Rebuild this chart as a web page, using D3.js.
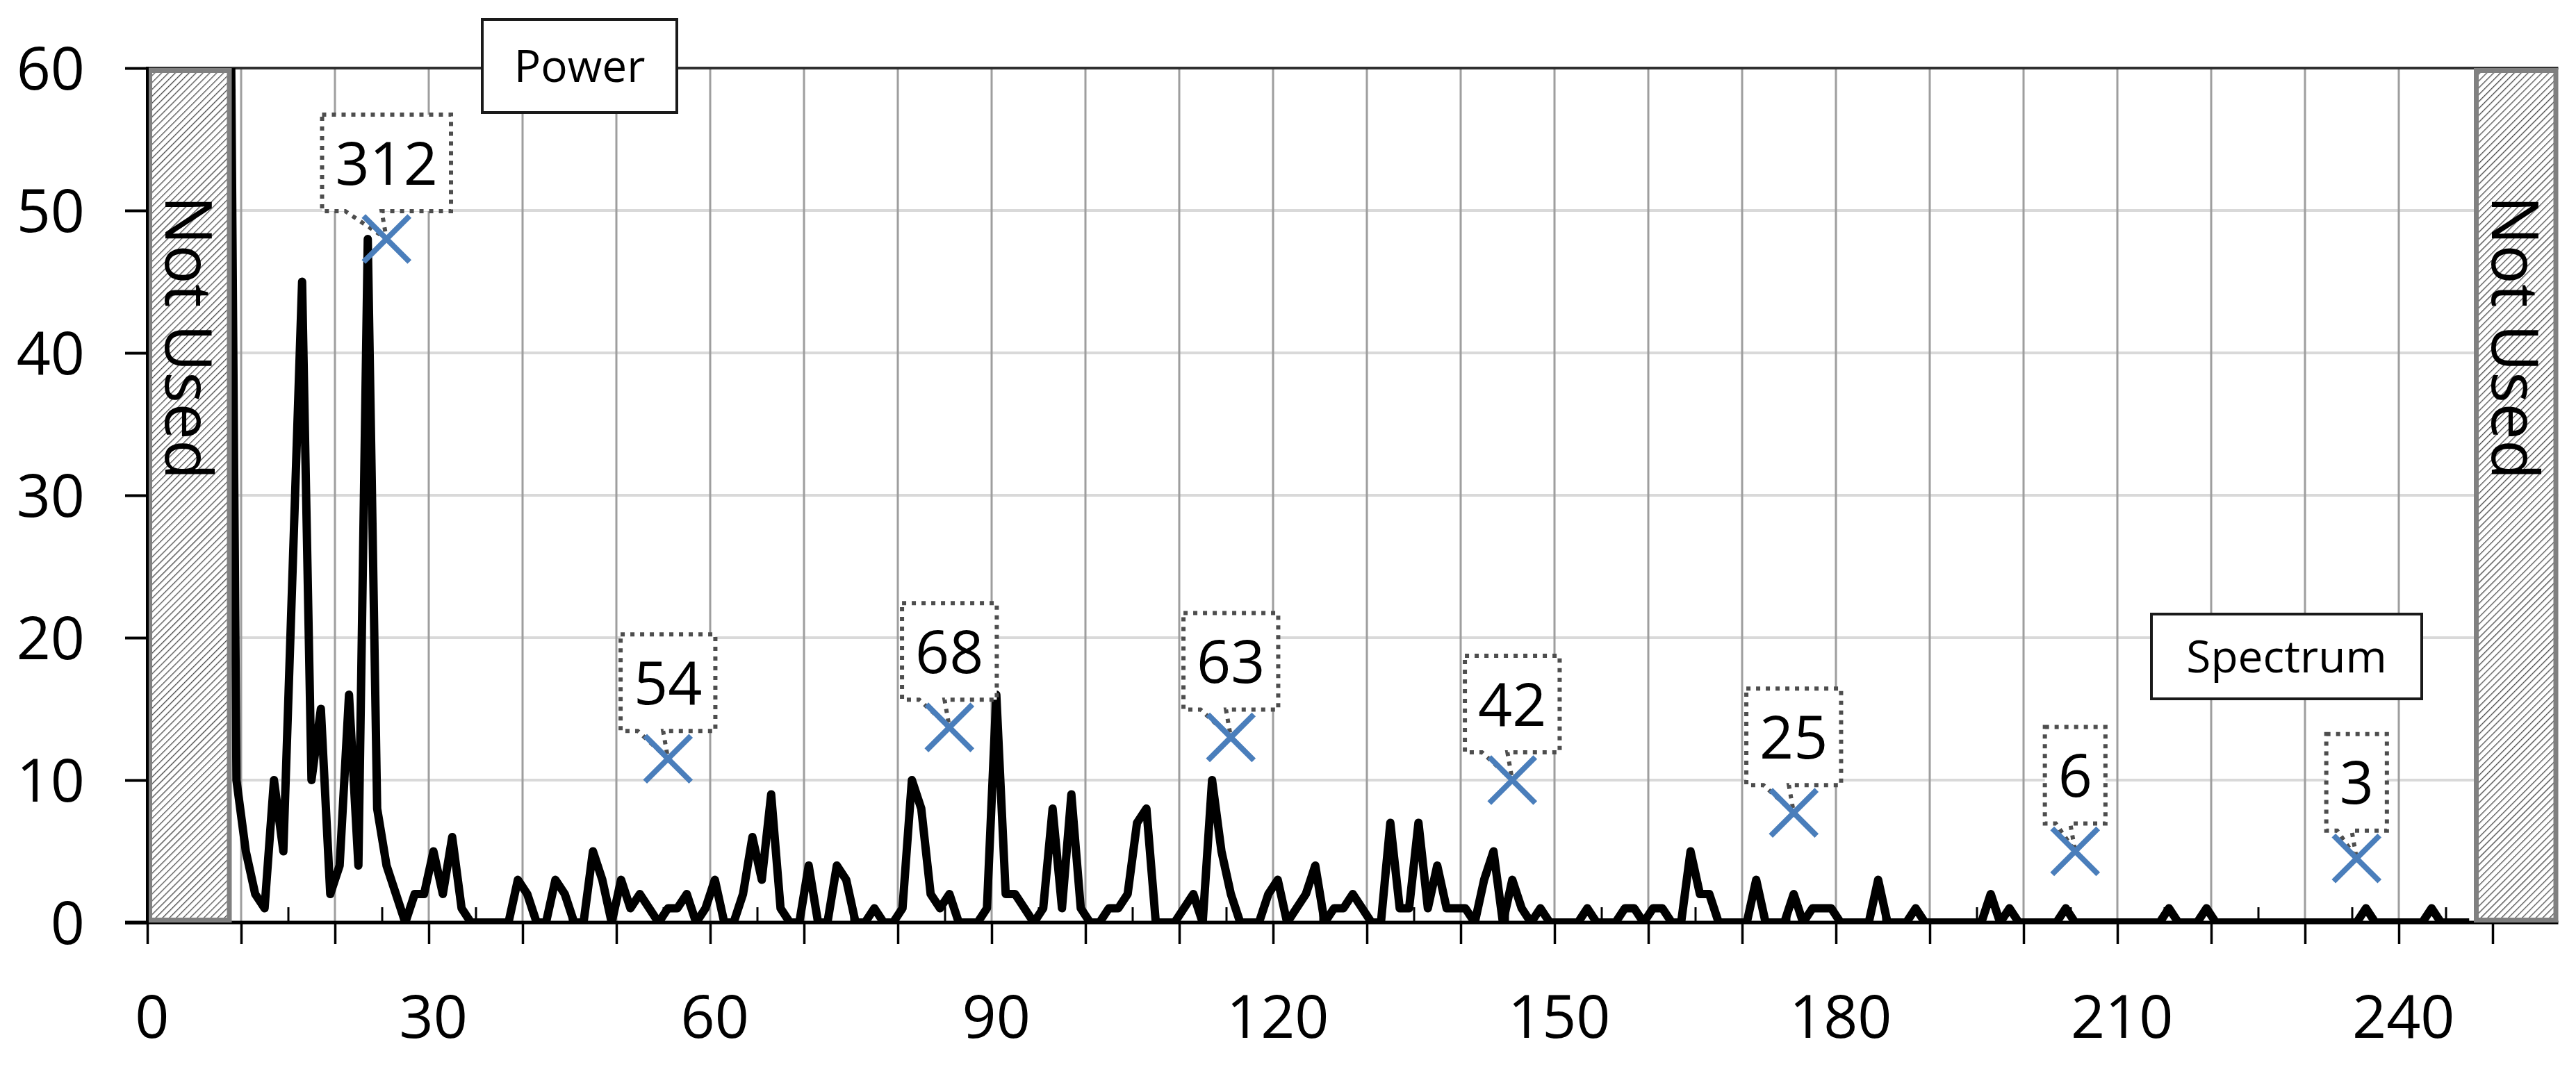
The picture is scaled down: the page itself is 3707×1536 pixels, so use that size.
<!DOCTYPE html>
<html>
<head>
<meta charset="utf-8">
<script src="https://cdn.jsdelivr.net/npm/d3@7"></script>
<style>
  html, body { margin: 0; padding: 0; background: #ffffff; }
  svg { display: block; }
  text { font-family: "Open Sans", "Noto Sans", sans-serif; fill: #000; }
</style>
</head>
<body>
<svg id="chart" width="3707" height="1536"></svg>
<script>
// ---------------- DATA ----------------
// first plotted bin index (bin 8 is far off scale, hidden by the "Not Used" band)
const firstBin = 8;
// power per bin, bins 8 .. 247
const power = [
  100, 10, 5, 2, 1, 10, 5, 25, 45, 10,      // 8-17
  15, 2, 4, 16, 4, 48, 8, 4, 2, 0,          // 18-27
  2, 2, 5, 2, 6, 1, 0, 0, 0, 0,             // 28-37
  0, 3, 2, 0, 0, 3, 2, 0, 0, 5,             // 38-47
  3, 0, 3, 1, 2, 1, 0, 1, 1, 2,             // 48-57
  0, 1, 3, 0, 0, 2, 6, 3, 9, 1,             // 58-67
  0, 0, 4, 0, 0, 4, 3, 0, 0, 1,             // 68-77
  0, 0, 1, 10, 8, 2, 1, 2, 0, 0,            // 78-87
  0, 1, 16, 2, 2, 1, 0, 1, 8, 1,            // 88-97
  9, 1, 0, 0, 1, 1, 2, 7, 8, 0,             // 98-107
  0, 0, 1, 2, 0, 10, 5, 2, 0, 0,            // 108-117
  0, 2, 3, 0, 1, 2, 4, 0, 1, 1,             // 118-127
  2, 1, 0, 0, 7, 1, 1, 7, 1, 4,             // 128-137
  1, 1, 1, 0, 3, 5, 0, 3, 1, 0,             // 138-147
  1, 0, 0, 0, 0, 1, 0, 0, 0, 1,             // 148-157
  1, 0, 1, 1, 0, 0, 5, 2, 2, 0,             // 158-167
  0, 0, 0, 3, 0, 0, 0, 2, 0, 1,             // 168-177
  1, 1, 0, 0, 0, 0, 3, 0, 0, 0,             // 178-187
  1, 0, 0, 0, 0, 0, 0, 0, 2, 0,             // 188-197
  1, 0, 0, 0, 0, 0, 1, 0, 0, 0,             // 198-207
  0, 0, 0, 0, 0, 0, 0, 1, 0, 0,             // 208-217
  0, 1, 0, 0, 0, 0, 0, 0, 0, 0,             // 218-227
  0, 0, 0, 0, 0, 0, 0, 0, 1, 0,             // 228-237
  0, 0, 0, 0, 0, 1, 0, 0, 0, 0              // 238-247
];

// highlighted band markers
const markerBins   = [25, 55, 85, 115, 145, 175, 205, 235];
const markerValues = [48, 11.5, 13.7, 13, 10, 7.7, 5, 4.5];
const markerLabels = ["312", "54", "68", "63", "42", "25", "6", "3"];

// axis ticks / labels
const yTickValues   = [0, 10, 20, 30, 40, 50, 60];
const xLabelBins    = [0, 30, 60, 90, 120, 150, 180, 210, 240];
const xMajorTicks   = [0,10,20,30,40,50,60,70,80,90,100,110,120,130,140,150,160,170,180,190,200,210,220,230,240,250];
const xMinorTicks   = [15,25,35,45,55,65,75,85,95,105,115,125,135,145,155,165,175,185,195,205,215,225,235,245];
const xGridBins     = [10,20,30,40,50,60,70,80,90,100,110,120,130,140,150,160,170,180,190,200,210,220,230,240];

// unused bands [fromBoundary, toBoundary]
const notUsedBands = [[0, 9], [248, 257]];
const notUsedText  = "Not Used";
const totalBins = 257;

// ---------------- LAYOUT ----------------
const L = 212, R = 3681.5, T = 98, B = 1328;
const svg = d3.select("#chart");

const x = d3.scaleLinear().domain([0, totalBins]).range([L, R]);   // bin boundaries
const y = d3.scaleLinear().domain([0, 60]).range([B, T]);
const cx = i => x(i + 0.5);                                        // bin centre

// defs: hatch + clip
const defs = svg.append("defs");
const pat = defs.append("pattern")
  .attr("id", "hatch").attr("patternUnits", "userSpaceOnUse")
  .attr("width", 7).attr("height", 7)
  .attr("patternTransform", "rotate(45)");
pat.append("rect").attr("width", 7).attr("height", 7).attr("fill", "#ffffff");
pat.append("line").attr("x1", 0).attr("y1", 0).attr("x2", 0).attr("y2", 7)
  .attr("stroke", "#4a4a4a").attr("stroke-width", 2.6);
defs.append("clipPath").attr("id", "plotclip")
  .append("rect").attr("x", L).attr("y", T).attr("width", R - L).attr("height", B - T);

// horizontal gridlines
svg.append("g").selectAll("line").data(yTickValues.filter(v => v > 0 && v < 60)).join("line")
  .attr("x1", L).attr("x2", R).attr("y1", d => y(d)).attr("y2", d => y(d))
  .attr("stroke", "#d9d9d9").attr("stroke-width", 4);

// vertical gridlines
svg.append("g").selectAll("line").data(xGridBins).join("line")
  .attr("x1", d => x(d)).attr("x2", d => x(d)).attr("y1", T).attr("y2", B)
  .attr("stroke", "#9e9e9e").attr("stroke-width", 3);

// top border
svg.append("line").attr("x1", L).attr("x2", R).attr("y1", T).attr("y2", T)
  .attr("stroke", "#303030").attr("stroke-width", 4);

// x axis (ticks via d3 axis)
const xAxisMajor = d3.axisBottom(x).tickValues(xMajorTicks).tickSize(31).tickFormat("");
const gx = svg.append("g").attr("transform", `translate(0,${B})`).call(xAxisMajor);
gx.select(".domain").remove();
gx.selectAll(".tick line").attr("stroke", "#000").attr("stroke-width", 3.5);
const xAxisMinor = d3.axisTop(x).tickValues(xMinorTicks).tickSize(22).tickFormat("");
const gxm = svg.append("g").attr("transform", `translate(0,${B})`).call(xAxisMinor);
gxm.select(".domain").remove();
gxm.selectAll(".tick line").attr("stroke", "#000").attr("stroke-width", 3);
svg.append("line").attr("x1", 180).attr("x2", R).attr("y1", B).attr("y2", B)
  .attr("stroke", "#000").attr("stroke-width", 5);

// x labels at bin centres
svg.append("g").selectAll("text").data(xLabelBins).join("text")
  .attr("x", d => cx(d)).attr("y", B + 166)
  .attr("text-anchor", "middle").attr("font-size", 86)
  .text(d => d);

// data line
const line = d3.line().x((d, k) => cx(firstBin + k)).y(d => y(d));
svg.append("path").datum(power)
  .attr("clip-path", "url(#plotclip)")
  .attr("d", line).attr("fill", "none")
  .attr("stroke", "#000").attr("stroke-width", 12)
  .attr("stroke-linejoin", "round");

// Not Used bands
const bandG = svg.append("g");
notUsedBands.forEach(([a, b]) => {
  bandG.append("rect")
    .attr("x", x(a) + 3.5).attr("y", T + 3.5)
    .attr("width", x(b) - x(a) - 7).attr("height", B - T - 7)
    .attr("fill", "url(#hatch)").attr("stroke", "#808080").attr("stroke-width", 7);
  const mx = (x(a) + x(b)) / 2;
  bandG.append("text")
    .attr("transform", `translate(${mx - 35},${486}) rotate(90)`)
    .attr("text-anchor", "middle").attr("font-size", 94)
    .text(notUsedText);
});

// y axis
const yAxis = d3.axisLeft(y).tickValues(yTickValues).tickSize(32).tickFormat("");
const gy = svg.append("g").attr("transform", `translate(${L},0)`).call(yAxis);
gy.select(".domain").remove();
gy.selectAll(".tick line").attr("stroke", "#000").attr("stroke-width", 4);
svg.append("line").attr("x1", L).attr("x2", L).attr("y1", T - 2).attr("y2", B + 2)
  .attr("stroke", "#000").attr("stroke-width", 4);
svg.append("g").selectAll("text").data(yTickValues).join("text")
  .attr("x", 122).attr("y", d => y(d) + 31)
  .attr("text-anchor", "end").attr("font-size", 86)
  .text(d => d);

// markers with callouts
const mG = svg.append("g");
markerBins.forEach((bin, k) => {
  const mx = cx(bin), my = y(markerValues[k]);
  const g = mG.append("g");
  const t = g.append("text").attr("font-size", 86).attr("text-anchor", "middle")
    .text(markerLabels[k]);
  const tw = t.node().getComputedTextLength();
  const w = tw + 38, h = 139;
  const bottom = my - 40, top = bottom - h;
  const left = mx - w / 2, right = mx + w / 2;
  const baseL = left + w * 0.18, baseR = mx - 7;
  const p = d3.path();
  p.moveTo(left, top); p.lineTo(right, top); p.lineTo(right, bottom);
  p.lineTo(baseR, bottom); p.lineTo(mx, my); p.lineTo(baseL, bottom);
  p.lineTo(left, bottom); p.closePath();
  g.insert("path", "text").attr("d", p.toString())
    .attr("fill", "#ffffff").attr("stroke", "#4d4d4d")
    .attr("stroke-width", 6).attr("stroke-dasharray", "6 8");
  t.attr("x", mx).attr("y", top + h / 2 + 31);
  const s = 33;
  mG.append("path")
    .attr("d", `M${mx - s},${my - s}L${mx + s},${my + s}M${mx - s},${my + s}L${mx + s},${my - s}`)
    .attr("stroke", "#4a7ebb").attr("stroke-width", 8).attr("fill", "none");
});

// title boxes
function labelBox(x0, y0, w, h, txt) {
  svg.append("rect").attr("x", x0).attr("y", y0).attr("width", w).attr("height", h)
    .attr("fill", "#fff").attr("stroke", "#1a1a1a").attr("stroke-width", 4);
  svg.append("text").attr("x", x0 + w / 2).attr("y", y0 + h / 2 + 23)
    .attr("text-anchor", "middle").attr("font-size", 64).text(txt);
}
labelBox(694, 28, 280, 134, "Power");
labelBox(3096, 884, 389, 122, "Spectrum");
</script>
</body>
</html>
